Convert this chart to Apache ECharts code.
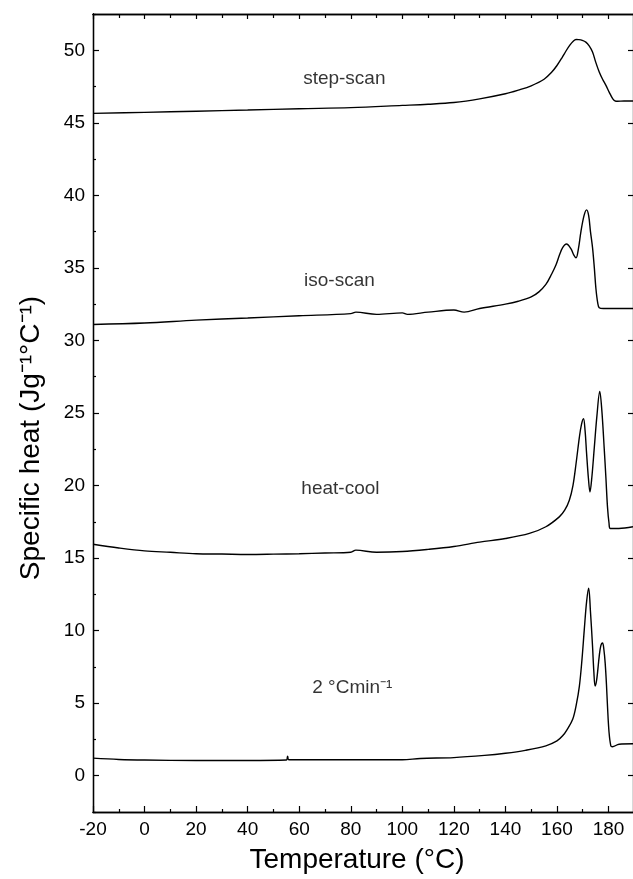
<!DOCTYPE html>
<html><head><meta charset="utf-8">
<script src="https://cdn.jsdelivr.net/npm/echarts@6/dist/echarts.min.js"></script>
<style>html,body{margin:0;padding:0;background:#fff}#c{width:633px;height:879px}</style>
</head><body><div id="c"></div>
<script>
// ---- data ----
const stepX = [-20,0,20,40,60,80,100,110,120,130,140,145,150,155,158,160,162,163.5,165,166.3,167.4,168.5,169.8,171.2,172.5,173.8,175,176.4,177.7,179,180.3,181.6,182.5,183.5,186,189.5];
const stepY = [45.65,45.72,45.8,45.88,45.97,46.05,46.2,46.28,46.4,46.65,47.0,47.25,47.55,48.0,48.5,48.95,49.5,49.95,50.35,50.62,50.74,50.73,50.68,50.56,50.3,49.88,49.2,48.5,48.0,47.58,47.1,46.67,46.52,46.49,46.5,46.5];

const isoX = [-20,0,20,40,60,80,82,90,100,102,110,120,124,130,140,145,150,153,155.7,158,159.6,161,162.2,163.7,165.5,166.5,167.4,168.3,169.3,170.5,171.5,172.3,173,173.8,174.5,175.1,175.8,176.4,178,183,189.5];
const isoY = [31.1,31.2,31.4,31.55,31.7,31.85,31.95,31.8,31.9,31.8,31.95,32.1,31.95,32.2,32.5,32.7,33.0,33.35,33.86,34.6,35.2,35.9,36.4,36.65,36.3,35.9,35.7,36.3,37.5,38.6,39.0,38.6,37.5,36.4,35.0,33.6,32.6,32.26,32.2,32.2,32.2];

const hcX = [-20,-10,0,10,20,30,40,50,60,70,80,82,90,100,110,120,130,140,149.3,155.7,160.9,163,164.8,166.2,167.4,168.7,169.5,170.3,170.9,171.5,172.2,172.8,173.5,174.5,175.5,176.6,177.4,178.3,179,179.6,180.2,180.7,184,189.5];
const hcY = [15.95,15.7,15.5,15.4,15.3,15.28,15.25,15.27,15.3,15.35,15.4,15.55,15.4,15.45,15.6,15.8,16.1,16.35,16.7,17.16,17.84,18.3,18.99,20.0,21.5,23.34,24.2,24.6,23.8,22.2,20.5,19.56,20.5,22.65,24.8,26.49,25.2,22.65,20.5,18.53,17.4,17.04,17.04,17.16];

const r2X = [-20,-10,0,20,40,55,55.5,56,80,100,107,120,131.9,140,147.7,155.7,160,162.2,164,166.1,167.5,168.7,169.7,170.6,171.5,172.3,173,173.8,174.3,174.8,175.4,176.4,177,177.7,178.2,178.7,179.2,179.6,180.2,180.9,181.5,184.1,189.5];
const r2Y = [1.21,1.12,1.08,1.05,1.05,1.08,1.35,1.1,1.1,1.1,1.19,1.25,1.4,1.55,1.75,2.06,2.4,2.75,3.2,3.89,4.9,6.18,8.0,10.07,12.0,12.92,11.3,8.92,7.2,6.18,6.6,8.24,8.95,9.15,8.7,7.78,6.3,4.8,3.0,2.06,2.0,2.17,2.2];

const labelNames = ['step-scan','iso-scan','heat-cool','2 °Cmin⁻¹'];
const labelX = [77.5, 75.6, 76.0, 80.6];
const labelY = [48.05, 34.11, 19.77, 6.04];

const xMajor = [-20,0,20,40,60,80,100,120,140,160,180];
const xMinor = [-10,10,30,50,70,90,110,130,150,170];
const yMajor = [0,5,10,15,20,25,30,35,40,45,50];
const yMinor = [-2.5,2.5,7.5,12.5,17.5,22.5,27.5,32.5,37.5,42.5,47.5,52.5];

const xMin = -20, xMax = 189.5, yMin = -2.5, yMax = 52.5;

// ---- chart ----
const zip = (a,b) => a.map((v,i)=>[v,b[i]]);
const FONT = 'Liberation Sans, Arial, sans-serif';
const lineStyle = {color:'#000', width:1.4};
const axLine = {show:true, onZero:false, lineStyle:{color:'#000', width:1.3}};

function xAx(pos, ticks, len, labels){
  return {type:'value', position:pos, min:xMin, max:xMax, gridIndex:0,
    axisLine:axLine, splitLine:{show:false},
    axisTick:{show:true, inside:true, length:len, customValues:ticks, lineStyle:{color:'#000',width:1.2}},
    axisLabel:{show:labels, customValues:xMajor, color:'#000', fontSize:19, fontFamily:FONT, margin:8}};
}
function yAx(pos, ticks, len, labels){
  return {type:'value', position:pos, min:yMin, max:yMax, gridIndex:0,
    axisLine:axLine, splitLine:{show:false},
    axisTick:{show:true, inside:true, length:len, customValues:ticks, lineStyle:{color:'#000',width:1.2}},
    axisLabel:{show:labels, customValues:yMajor, color:'#000', fontSize:19, fontFamily:FONT, margin:8}};
}

const xAxes = [
  Object.assign(xAx('bottom', xMajor, 6, true), {name:'Temperature (°C)', nameLocation:'middle', nameGap:34,
    nameTextStyle:{fontSize:28, color:'#000', fontFamily:FONT, padding:[0,12,0,0]}}),
  xAx('bottom', xMinor, 3, false),
  xAx('top', xMajor, 5, false),
  xAx('top', xMinor, 4, false)
];
const yAxes = [
  Object.assign(yAx('left', yMajor, 6, true), {name:'Specific heat (Jg⁻¹°C⁻¹)', nameLocation:'middle', nameGap:48,
    nameTextStyle:{fontSize:28, color:'#000', fontFamily:FONT, padding:[0,50,0,0]}}),
  yAx('left', yMinor, 3, false),
  yAx('right', yMajor, 5, false)
];

function lineSeries(name, xs, ys){
  return {name, type:'line', xAxisIndex:0, yAxisIndex:0, data:zip(xs,ys), showSymbol:false, symbol:'none',
    smooth:0.35, lineStyle, animation:false, z:3};
}

const chart = echarts.init(document.getElementById('c'), null, {renderer:'canvas'});
chart.setOption({
  animation:false,
  backgroundColor:'#fff',
  grid:{left:93, top:14, width:541, height:802, containLabel:false},
  xAxis:xAxes,
  yAxis:yAxes,
  series:[
    lineSeries('step-scan', stepX, stepY),
    lineSeries('iso-scan', isoX, isoY),
    lineSeries('heat-cool', hcX, hcY),
    lineSeries('2 °C/min', r2X, r2Y),
    {type:'scatter', xAxisIndex:0, yAxisIndex:0, symbolSize:1, itemStyle:{color:'rgba(0,0,0,0)'},
     data: labelNames.map((n,i)=>({name:n, value:[labelX[i], labelY[i]]})),
     label:{show:true, position:'inside', formatter:'{b}', color:'#000', fontSize:19, fontFamily:FONT},
     silent:true, animation:false}
  ]
});
</script></body></html>
